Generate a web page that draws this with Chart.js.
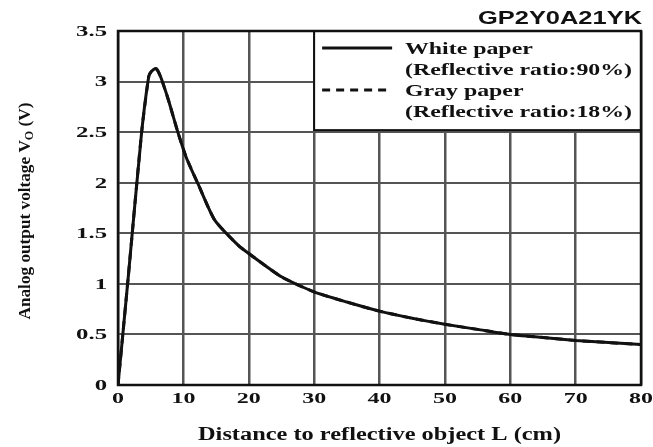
<!DOCTYPE html>
<html><head><meta charset="utf-8">
<script src="https://cdn.jsdelivr.net/npm/chart.js@4/dist/chart.umd.min.js"></script>
<style>html,body{margin:0;padding:0;background:#fff}#wrap{width:653px;height:447px}</style>
</head><body><div id="wrap"><canvas id="c"></canvas></div>
<script>
// GP2Y0A21YK output vs distance

const distances   = [0, 1.6, 3.6, 4.7, 5.1, 5.8, 6.5, 7.7, 9.2, 10.5, 12.3, 14.8, 18.4, 20, 25, 30, 35, 40, 45, 50, 55, 60, 65, 70, 75, 80];
const whitePaper  = [0, 1.09, 2.49, 3.05, 3.10, 3.13, 3.05, 2.82, 2.49, 2.24, 1.98, 1.63, 1.38, 1.30, 1.07, 0.92, 0.82, 0.73, 0.66, 0.60, 0.55, 0.50, 0.47, 0.44, 0.42, 0.40];
const grayPaper   = [0, 1.09, 2.49, 3.05, 3.10, 3.13, 3.05, 2.82, 2.49, 2.24, 1.98, 1.63, 1.38, 1.30, 1.07, 0.92, 0.82, 0.73, 0.66, 0.60, 0.55, 0.50, 0.47, 0.44, 0.42, 0.40];
const seriesNames = ['White paper', 'Gray paper'];
const seriesNotes = ['(Reflective ratio:90%)', '(Reflective ratio:18%)'];
const partName    = 'GP2Y0A21YK';
const xTitle      = 'Distance to reflective object L (cm)';

const serif = '"Liberation Serif", "Times New Roman", serif';

const pts = (ys) => distances.map((x, i) => ({ x, y: ys[i] }));

// the scan is stretched sideways, so text is drawn wide
function wide(ctx, text, x, y, align, sx) {
  ctx.save();
  ctx.translate(x, y);
  ctx.scale(sx, 1);
  ctx.textAlign = align;
  ctx.fillText(text, 0, 0);
  ctx.restore();
}
const fitX = (ctx, text, w) => w / ctx.measureText(text).width;

const decor = {
  id: 'decor',
  afterDraw(chart) {
    const { ctx, chartArea: a, scales: { x, y } } = chart;
    ctx.save();
    ctx.fillStyle = '#111';
    ctx.textBaseline = 'middle';

    // legend box over the grid (x 30..80, y top..2.52)
    const bx = x.getPixelForValue(30), by = a.top, bb = y.getPixelForValue(2.52);
    ctx.fillStyle = '#fff';
    ctx.fillRect(bx, by, a.right - bx, bb - by);
    ctx.fillStyle = '#111';
    ctx.strokeStyle = '#111';
    ctx.lineWidth = 2;
    ctx.strokeRect(bx, by, a.right - bx, bb - by);

    // frame
    ctx.lineWidth = 2.5;
    ctx.strokeRect(a.left, a.top, a.right - a.left, a.bottom - a.top);

    // tick labels from the scales
    ctx.font = 'bold 15px ' + serif;
    y.ticks.forEach(t => wide(ctx, String(t.value), 107, y.getPixelForValue(t.value) + 1, 'right', 1.65));
    x.ticks.forEach(t => wide(ctx, String(t.value), x.getPixelForValue(t.value), 399, 'center', 1.6));

    // legend entries
    ctx.font = 'bold 16px ' + serif;
    const ls = fitX(ctx, seriesNotes[0], 227);
    const rows = [50, 92];
    chart.data.datasets.forEach((ds, i) => {
      const ly = rows[i];
      ctx.beginPath();
      ctx.setLineDash(ds.borderDash || []);
      ctx.lineWidth = 3;
      ctx.moveTo(bx + 8, ly - 2);
      ctx.lineTo(bx + 78, ly - 2);
      ctx.stroke();
      ctx.setLineDash([]);
      wide(ctx, seriesNames[i], 405, ly, 'left', ls);
      wide(ctx, seriesNotes[i], 405, ly + 21, 'left', ls);
    });

    // part name
    ctx.font = 'bold 18px "Liberation Sans", Arial, sans-serif';
    wide(ctx, partName, a.right + 1, 19, 'right', fitX(ctx, partName, 164));

    // x title
    ctx.font = 'bold 18px ' + serif;
    wide(ctx, xTitle, (a.left + a.right) / 2, 435, 'center', fitX(ctx, xTitle, 363));

    // rotated y title with subscript
    ctx.translate(26, 211);
    ctx.rotate(-Math.PI / 2);
    const big = 'bold 17px ' + serif, small = 'bold 12px ' + serif;
    const parts = [['Analog output voltage V', big, 0], ['O', small, 4], [' (V)', big, 0]];
    let w = 0;
    parts.forEach(([t, f]) => { ctx.font = f; w += ctx.measureText(t).width; });
    ctx.scale(217 / w, 1);
    let cx = -w / 2;
    ctx.textAlign = 'left';
    parts.forEach(([t, f, dy]) => {
      ctx.font = f;
      ctx.fillText(t, cx, dy);
      cx += ctx.measureText(t).width;
    });
    ctx.restore();
  }
};

new Chart(document.getElementById('c'), {
  type: 'line',
  data: {
    datasets: [
      { label: seriesNames[0], data: pts(whitePaper), borderColor: '#111', borderWidth: 3,
        pointRadius: 0, tension: 0.2, fill: false },
      { label: seriesNames[1], data: pts(grayPaper), borderColor: '#111', borderWidth: 3,
        borderDash: [8, 6], pointRadius: 0, tension: 0.2, fill: false },
    ]
  },
  options: {
    responsive: true,
    maintainAspectRatio: false,
    animation: false,
    layout: { padding: { top: 31, right: 12, left: 0, bottom: 0 } },
    plugins: { legend: { display: false }, tooltip: { enabled: false } },
    scales: {
      x: {
        type: 'linear', min: 0, max: 80,
        ticks: { stepSize: 10, display: false },
        grid: { color: '#555', lineWidth: 2.5, drawTicks: false },
        border: { display: false },
        afterFit(s) { s.height = 62; }
      },
      y: {
        min: 0, max: 3.5,
        ticks: { stepSize: 0.5, display: false },
        grid: { color: '#555', lineWidth: 2, drawTicks: false },
        border: { display: false },
        afterFit(s) { s.width = 118; }
      }
    }
  },
  plugins: [decor]
});
</script>
</body></html>
